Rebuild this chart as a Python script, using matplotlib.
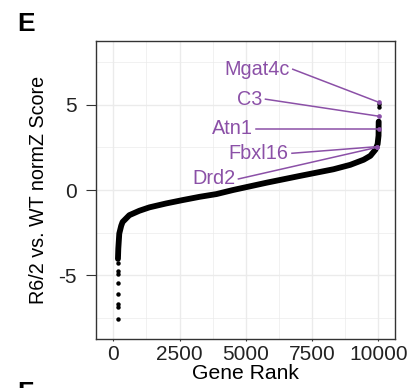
import matplotlib
matplotlib.use("Agg")
import matplotlib.pyplot as plt
import numpy as np

plt.rcParams['font.family'] = ['Liberation Sans', 'DejaVu Sans']

# main ranked curve
curve_rank = [177, 190, 227, 300, 352, 606, 985, 1364, 1996, 2625, 3258, 3890, 4519,
              5784, 7045, 8307, 8939, 9443, 9697, 9886, 9970, 10005, 10010]
curve_score = [-4.05, -3.45, -2.56, -2.10, -1.88, -1.48, -1.22, -1.02, -0.79, -0.59, -0.40, -0.24, 0.0,
               0.43, 0.83, 1.22, 1.48, 1.78, 2.01, 2.37, 2.70, 3.20, 4.02]

# isolated extreme genes
tail_rank = [177, 177, 177, 177, 177, 177, 177, 177, 10010, 10010]
tail_score = [-4.31, -4.76, -4.94, -5.49, -6.12, -6.71, -6.88, -7.61, 4.90, 5.04]

# labelled genes
gene_names = ["Mgat4c", "C3", "Atn1", "Fbxl16", "Drd2"]
gene_rank = [10010, 10010, 10010, 9950, 9950]
gene_score = [5.16, 4.34, 3.59, 2.55, 2.51]
label_rank = [6650, 5620, 5280, 6620, 4600]
label_score = [7.1, 5.34, 3.59, 2.16, 0.65]

purple = '#8b50a7'

fig = plt.figure(figsize=(4.19, 3.88), dpi=100)
ax = fig.add_axes([0.229, 0.1263, 0.714, 0.768])

# grid like theme_bw
for v in [0, 2500, 5000, 7500, 10000]:
    ax.axvline(v, color='#ebebeb', lw=1.0, zorder=0)
for v in [1250, 3750, 6250, 8750]:
    ax.axvline(v, color='#ebebeb', lw=0.5, zorder=0)
for v in [-5, 0, 5]:
    ax.axhline(v, color='#ebebeb', lw=1.0, zorder=0)
for v in [-7.5, -2.5, 2.5, 7.5]:
    ax.axhline(v, color='#ebebeb', lw=0.5, zorder=0)

ax.plot(curve_rank, curve_score, '-', color='black', lw=4.2, solid_capstyle='round',
        solid_joinstyle='round', zorder=2)
ax.plot(tail_rank, tail_score, 'o', color='black', ms=3.2, mew=0, zorder=2)

for name, gx, gy, lx, ly in zip(gene_names, gene_rank, gene_score, label_rank, label_score):
    ax.plot([lx + 120, gx], [ly, gy], '-', color=purple, lw=1.1, zorder=3)
    ax.plot(gx, gy, 'o', color=purple, ms=3.4, mew=0, zorder=4)
    ax.text(lx, ly, name, color=purple, fontsize=14.3, ha='right', va='center', zorder=5)

ax.set_xlim(-653, 10630)
ax.set_ylim(-8.76, 8.76)
ax.set_xticks([0, 2500, 5000, 7500, 10000])
ax.set_yticks([-5, 0, 5])
ax.set_yticklabels(['-5', '0', '5'])
ax.tick_params(axis='y', length=7, width=0.8, color='#333333', pad=7, labelsize=15, labelcolor='#222222')
ax.tick_params(axis='x', length=1.5, width=0.8, color='#333333', pad=3, labelsize=15, labelcolor='#222222')
for s in ax.spines.values():
    s.set_color('#333333')
    s.set_linewidth(1.0)

ax.set_xlabel('Gene Rank', fontsize=15.2, labelpad=0)
ax.set_ylabel('R6/2 vs. WT normZ Score', fontsize=14.2, labelpad=7)

fig.text(17 / 419, 1 - 30.7 / 388, 'E', fontsize=19, fontweight='bold', ha='left', va='baseline')
fig.text(17 / 419, 1 - 399.7 / 388, 'F', fontsize=19, fontweight='bold', ha='left', va='baseline')

fig.savefig('out.png', dpi=100)
